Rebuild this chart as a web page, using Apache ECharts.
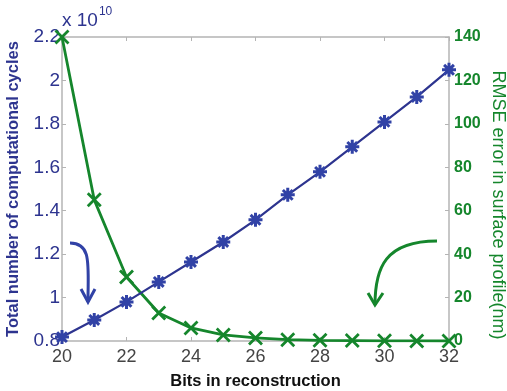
<!DOCTYPE html>
<html>
<head>
<meta charset="utf-8">
<script src="https://cdn.jsdelivr.net/npm/echarts@6/dist/echarts.min.js"></script>
<style>html,body{margin:0;padding:0;background:#fff}#c{width:507px;height:391px}</style>
</head>
<body>
<div id="c"></div>
<script>
var bits = [20,21,22,23,24,25,26,27,28,29,30,31,32];
var cycles = [0.818,0.897,0.98,1.072,1.164,1.256,1.358,1.473,1.579,1.694,1.809,1.924,2.049];
var rmse = [140,65,29.5,12.9,6,2.8,1.4,0.6,0.3,0.2,0.1,0.05,0];
var leftTicks = [0.8,1,1.2,1.4,1.6,1.8,2,2.2];
var rightTicks = [0,20,40,60,80,100,120,140];

var BLUE = '#2d348f', BLUEMARK = '#3142a6', GREEN = '#15862c', AX = '#b4b4b4';
var chart = echarts.init(document.getElementById('c'));
function pairs(xs, ys){ return xs.map(function(x,i){return [x, ys[i]];}); }
chart.setOption({
  animation:false,
  grid:{left:62,right:58,top:37,bottom:50,outerBoundsMode:'none',containLabel:false},
  xAxis:[{
    type:'value',min:20,max:32,interval:2,position:'bottom',
    axisLine:{lineStyle:{color:AX,width:1.5}},
    axisTick:{inside:true,length:4,lineStyle:{color:AX}},
    splitLine:{show:false},
    axisLabel:{color:'#444',fontSize:18,fontFamily:'Liberation Sans',margin:7},
    name:'Bits in reconstruction',nameLocation:'middle',nameGap:32,
    nameTextStyle:{color:'#111',fontSize:16.5,fontWeight:'bold',fontFamily:'Liberation Sans'}
  },{
    type:'value',min:20,max:32,interval:2,position:'top',
    axisLine:{lineStyle:{color:AX,width:1.5}},
    axisTick:{inside:true,length:4,lineStyle:{color:AX}},
    axisLabel:{show:false},splitLine:{show:false}
  }],
  yAxis:[{
    type:'value',min:0.8,max:2.2,interval:0.2,position:'left',
    axisLine:{show:true,lineStyle:{color:AX,width:1.5}},
    axisTick:{show:true,inside:true,length:4,lineStyle:{color:AX}},
    splitLine:{show:false},
    axisLabel:{color:BLUE,fontSize:19,fontFamily:'Liberation Sans',margin:2},
    name:'Total number of computational cycles',nameLocation:'middle',nameGap:40,nameRotate:90,
    nameTextStyle:{color:BLUE,fontSize:16.5,fontWeight:'bold',fontFamily:'Liberation Sans'}
  },{
    type:'value',min:0,max:140,interval:20,position:'right',
    axisLine:{show:true,lineStyle:{color:AX,width:1.5}},
    axisTick:{show:true,inside:true,length:4,lineStyle:{color:AX}},
    splitLine:{show:false},
    axisLabel:{color:GREEN,fontSize:16,fontWeight:'bold',fontFamily:'Liberation Sans',margin:5}
  }],
  series:[{
    type:'line',xAxisIndex:0,yAxisIndex:1,data:pairs(bits,rmse),
    lineStyle:{color:GREEN,width:2.8},
    symbol:'path://M0,0L10,10M10,0L0,10',symbolSize:13,
    itemStyle:{color:'none',borderColor:GREEN,borderWidth:2.8},
    z:2
  },{
    type:'line',xAxisIndex:0,yAxisIndex:0,data:pairs(bits,cycles),
    lineStyle:{color:BLUE,width:2.2},
    symbol:'path://M0,5L10,5M5,0L5,10M1.5,1.5L8.5,8.5M8.5,1.5L1.5,8.5',symbolSize:14,
    itemStyle:{color:'none',borderColor:BLUEMARK,borderWidth:3},
    z:3
  }],
  graphic:[
    {type:'text',left:62,top:6,style:{
      text:'{a|x 10}{b|10}',
      rich:{a:{fontSize:19,fontFamily:'Liberation Sans',fill:BLUE,verticalAlign:'bottom'},
            b:{fontSize:12,fontFamily:'Liberation Sans',fill:BLUE,verticalAlign:'top',padding:[0,0,12,1]}}
    }},
    {type:'text',x:498,y:205,rotation:-Math.PI/2,style:{
      text:'RMSE error in surface profile(nm)',fontSize:18,fontFamily:'Liberation Sans',
      fill:GREEN,align:'center',verticalAlign:'middle'}},
    {type:'bezierCurve',shape:{x1:70,y1:243,x2:88,y2:302,cpx1:92,cpy1:243,cpx2:88,cpy2:265},
      style:{stroke:BLUEMARK,lineWidth:3,fill:'none'}},
    {type:'polyline',shape:{points:[[81,289],[88,302],[95,289]]},
      style:{stroke:BLUEMARK,lineWidth:3,fill:'none'}},
    {type:'bezierCurve',shape:{x1:437,y1:241,x2:375,y2:305,cpx1:385,cpy1:241,cpx2:375,cpy2:268},
      style:{stroke:GREEN,lineWidth:3,fill:'none'}},
    {type:'polyline',shape:{points:[[368,293],[375,305],[383,293]]},
      style:{stroke:GREEN,lineWidth:3,fill:'none'}}
  ]
});
</script>
</body>
</html>
